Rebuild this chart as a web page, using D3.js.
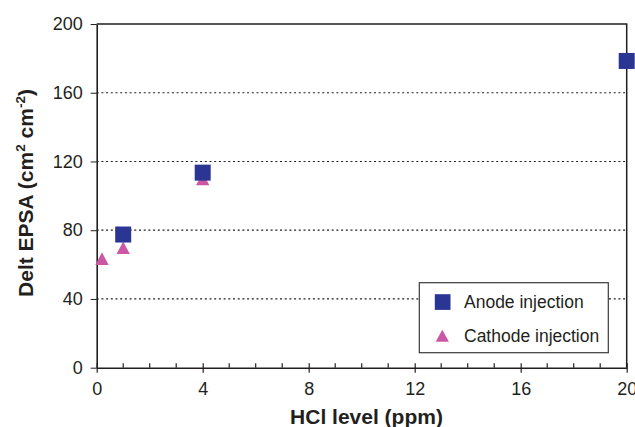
<!DOCTYPE html>
<html>
<head>
<meta charset="utf-8">
<script src="https://cdn.jsdelivr.net/npm/d3@7"></script>
<style>
  body { margin: 0; background: #fff; }
  text { font-family: "Liberation Sans", Arial, sans-serif; fill: #231f20; }
</style>
</head>
<body>
<svg id="chart"></svg>
<script>
// data
var anodeX = [1, 4, 20];
var anodeY = [77.5, 113.5, 178.5];
var cathodeX = [0.2, 1, 4];
var cathodeY = [63.5, 69.8, 109.8];
var xTicks = [0, 4, 8, 12, 16, 20];
var xMinor = d3.range(0, 21, 1);
var yTicks = [0, 40, 80, 120, 160, 200];
var seriesNames = ["Anode injection", "Cathode injection"];

var screen = {width: 635, height: 427};
var margins = {top: 24, bottom: 59.3, left: 96.7, right: 8.3};
var graph = {
    width: screen.width - margins.left - margins.right,
    height: screen.height - margins.top - margins.bottom
};

var svg = d3.select("#chart")
    .attr("width", screen.width)
    .attr("height", screen.height);

var xScale = d3.scaleLinear().domain([0, 20]).range([0, graph.width]);
var yScale = d3.scaleLinear().domain([0, 200]).range([graph.height, 0]);

var g = svg.append("g")
    .attr("transform", "translate(" + margins.left + "," + margins.top + ")");

// dotted grid lines
g.selectAll(".grid")
    .data(yTicks.filter(function(d) { return d > 0 && d < 200; }))
    .enter()
    .append("line")
    .attr("x1", 0)
    .attr("x2", graph.width)
    .attr("y1", function(d) { return yScale(d); })
    .attr("y2", function(d) { return yScale(d); })
    .attr("stroke", "#231f20")
    .attr("stroke-width", 1.2)
    .attr("stroke-dasharray", "2,2.7");

// frame top and right
g.append("path")
    .attr("d", "M0,0H" + graph.width + "V" + graph.height)
    .attr("fill", "none")
    .attr("stroke", "#231f20")
    .attr("stroke-width", 1.5);

// minor x ticks (inside)
g.selectAll(".minor")
    .data(xMinor.filter(function(d) { return xTicks.indexOf(d) < 0; }))
    .enter()
    .append("line")
    .attr("x1", function(d) { return xScale(d); })
    .attr("x2", function(d) { return xScale(d); })
    .attr("y1", graph.height)
    .attr("y2", graph.height - 4.5)
    .attr("stroke", "#231f20")
    .attr("stroke-width", 1.2);

// x axis
var xAxis = d3.axisBottom(xScale)
    .tickValues(xTicks)
    .tickSizeInner(5)
    .tickSizeOuter(0)
    .tickPadding(10);
var xg = g.append("g")
    .attr("transform", "translate(0," + graph.height + ")")
    .call(xAxis);
xg.selectAll(".tick line")
    .attr("y1", -4.5)
    .attr("stroke-width", 1.2);

// y axis
var yAxis = d3.axisLeft(yScale)
    .tickValues(yTicks)
    .tickSizeInner(6)
    .tickSizeOuter(0)
    .tickPadding(8);
var yg = g.append("g").call(yAxis);

[xg, yg].forEach(function(a) {
    a.select(".domain").attr("stroke", "#231f20").attr("stroke-width", 1.6);
    a.selectAll(".tick line").attr("stroke", "#231f20");
    a.selectAll(".tick text")
        .attr("font-size", 18)
        .attr("font-family", "'Liberation Sans', Arial, sans-serif")
        .attr("fill", "#231f20");
});

// cathode triangles
var triangle = function(x, y, w, h) {
    return "M" + (x - w / 2) + "," + (y + h / 2) +
           "L" + x + "," + (y - h / 2) +
           "L" + (x + w / 2) + "," + (y + h / 2) + "Z";
};
g.selectAll(".cathode")
    .data(cathodeX)
    .enter()
    .append("path")
    .attr("d", function(d, i) {
        return triangle(xScale(d), yScale(cathodeY[i]), 13.3, 12.7);
    })
    .attr("fill", "#cc57a5");

// anode squares
g.selectAll(".anode")
    .data(anodeX)
    .enter()
    .append("rect")
    .attr("x", function(d) { return xScale(d) - 8; })
    .attr("y", function(d, i) { return yScale(anodeY[i]) - 8; })
    .attr("width", 16)
    .attr("height", 16)
    .attr("fill", "#2b3593");

// legend
var legend = svg.append("g").attr("transform", "translate(419.3,282.7)");
legend.append("rect")
    .attr("width", 189)
    .attr("height", 70)
    .attr("fill", "#fff")
    .attr("stroke", "#3a3a3a")
    .attr("stroke-width", 1.2);
legend.append("rect")
    .attr("x", 15.5)
    .attr("y", 11.5)
    .attr("width", 15.7)
    .attr("height", 15.7)
    .attr("fill", "#2b3593");
legend.append("path")
    .attr("d", triangle(23, 53, 13.3, 12))
    .attr("fill", "#cc57a5");
legend.selectAll(".label")
    .data(seriesNames)
    .enter()
    .append("text")
    .attr("x", 44.7)
    .attr("y", function(d, i) { return 25.6 + i * 33.4; })
    .attr("font-size", 17.5)
    .text(function(d) { return d; });

// axis titles
svg.append("text")
    .attr("x", 366.5)
    .attr("y", 424)
    .attr("text-anchor", "middle")
    .attr("font-size", 21)
    .attr("font-weight", "bold")
    .text("HCl level (ppm)");

var yTitle = svg.append("text")
    .attr("transform", "translate(33.3,193) rotate(-90)")
    .attr("text-anchor", "middle")
    .attr("font-size", 21)
    .attr("font-weight", "bold");
yTitle.append("tspan").text("Delt EPSA (cm");
yTitle.append("tspan").attr("font-size", 13.5).attr("dy", -8).text("2");
yTitle.append("tspan").attr("dy", 8).text(" cm");
yTitle.append("tspan").attr("font-size", 13.5).attr("dy", -8).text("-2");
yTitle.append("tspan").attr("dy", 8).text(")");
</script>
</body>
</html>
